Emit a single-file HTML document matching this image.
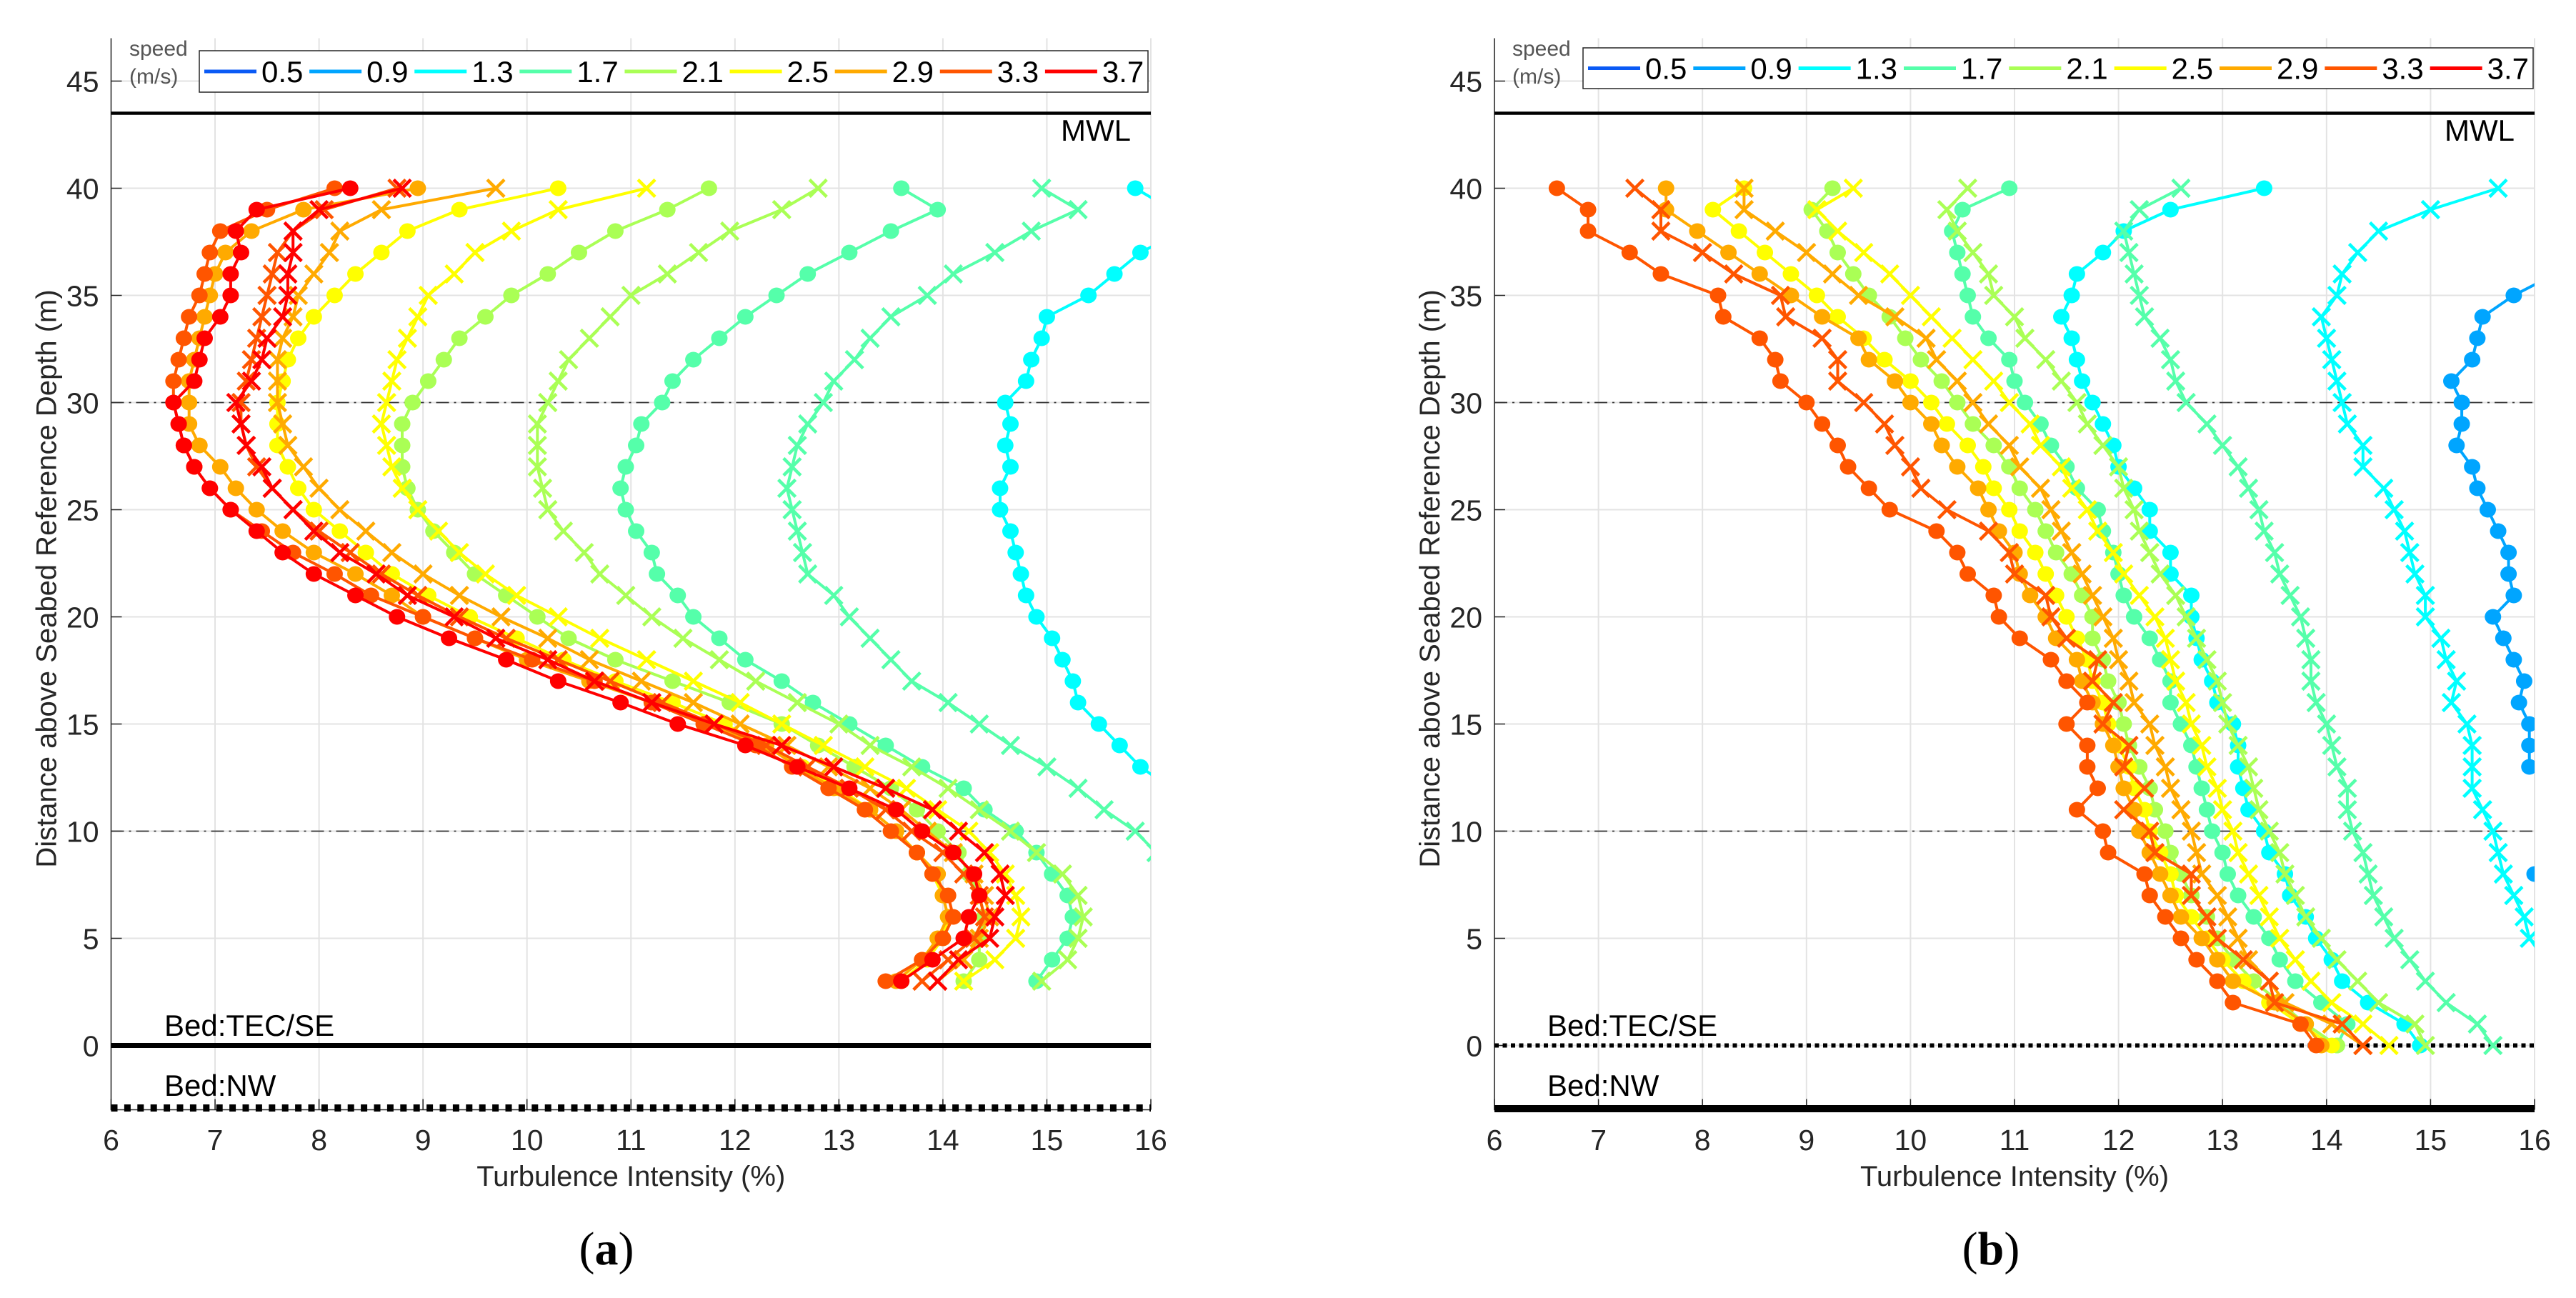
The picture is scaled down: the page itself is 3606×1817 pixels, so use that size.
<!DOCTYPE html>
<html><head><meta charset="utf-8"><style>
html,body{margin:0;padding:0;background:#fff;}
svg{display:block;font-family:"Liberation Sans",sans-serif;}
</style></head><body>
<svg id="chart" width="3606" height="1817" viewBox="0 0 3606 1817" xmlns="http://www.w3.org/2000/svg"></svg>
<script>
const speeds=["0.5","0.9","1.3","1.7","2.1","2.5","2.9","3.3","3.7"];
const colors=["#0a5af5","#00a5ff","#00ffff","#55ffaa","#aaff55","#ffff00","#ffaa00","#ff5500","#ff0000"];
const xTicks=[6,7,8,9,10,11,12,13,14,15,16];
const yTicks=[0,5,10,15,20,25,30,35,40,45];
const depthsA=[40,39,38,37,36,35,34,33,32,31,30,29,28,27,26,25,24,23,22,21,20,19,18,17,16,15,14,13,12,11,10,9,8,7,6,5,4,3];
const depthsB=[40,39,38,37,36,35,34,33,32,31,30,29,28,27,26,25,24,23,22,21,20,19,18,17,16,15,14,13,12,11,10,9,8,7,6,5,4,3,2,1,0];
// panel (a)
const a13d=[15.85,16.2,16.3,15.9,15.65,15.4,15.0,14.95,14.85,14.8,14.6,14.65,14.6,14.65,14.55,14.55,14.65,14.7,14.75,14.8,14.9,15.05,15.15,15.25,15.3,15.5,15.7,15.9,16.2,16.5,16.8,17,17.2,17.3,17.3,17.2,17,16.8];
const a17x=[14.95,15.3,14.85,14.5,14.1,13.85,13.5,13.3,13.15,12.95,12.85,12.7,12.6,12.55,12.5,12.55,12.6,12.65,12.7,12.95,13.1,13.3,13.5,13.7,14.05,14.35,14.65,15.0,15.3,15.55,15.85,16.05,16.3,16.5,16.6,16.5,16.3,16.1];
const a17d=[13.6,13.95,13.5,13.1,12.7,12.4,12.1,11.85,11.6,11.4,11.3,11.1,11.05,10.95,10.9,10.95,11.05,11.2,11.25,11.45,11.6,11.85,12.1,12.45,12.75,13.1,13.45,13.8,14.2,14.4,14.7,14.9,15.05,15.2,15.25,15.2,15.05,14.9];
const a21x=[12.8,12.45,11.95,11.65,11.35,11.0,10.8,10.6,10.4,10.3,10.2,10.1,10.1,10.1,10.15,10.2,10.35,10.55,10.7,10.95,11.2,11.5,11.85,12.2,12.6,13.0,13.3,13.7,14.05,14.35,14.65,14.9,15.15,15.3,15.35,15.3,15.2,14.95];
const a21d=[11.75,11.35,10.85,10.5,10.2,9.85,9.6,9.35,9.2,9.05,8.9,8.8,8.8,8.8,8.85,8.95,9.1,9.3,9.5,9.8,10.1,10.4,10.85,11.4,11.95,12.45,12.8,13.15,13.5,13.75,13.95,14.15,14.25,14.35,14.4,14.35,14.35,14.2];
const a25x=[11.15,10.3,9.85,9.5,9.3,9.05,8.95,8.85,8.75,8.7,8.65,8.6,8.65,8.7,8.8,8.95,9.15,9.35,9.6,9.9,10.3,10.7,11.15,11.6,12.05,12.45,12.85,13.25,13.65,13.95,14.25,14.45,14.6,14.7,14.75,14.7,14.5,14.2];
const a25d=[10.3,9.35,8.85,8.6,8.35,8.15,7.95,7.8,7.7,7.65,7.6,7.6,7.6,7.7,7.8,7.95,8.2,8.45,8.7,9.05,9.45,9.9,10.35,10.85,11.4,11.9,12.3,12.65,13.0,13.3,13.55,13.75,13.9,14.0,14.05,14.0,13.85,13.6];
const a29x=[9.7,8.6,8.2,8.1,7.95,7.8,7.75,7.65,7.6,7.6,7.6,7.65,7.7,7.85,8.0,8.2,8.45,8.7,9.0,9.35,9.75,10.2,10.6,11.1,11.6,12.05,12.5,12.9,13.3,13.6,13.85,14.1,14.3,14.4,14.45,14.35,14.2,13.95];
const a29d=[8.95,7.85,7.35,7.1,7.0,6.95,6.9,6.85,6.8,6.75,6.75,6.75,6.85,7.05,7.2,7.4,7.65,7.95,8.35,8.7,9.0,9.5,10.0,10.6,11.2,11.7,12.3,12.6,12.95,13.3,13.55,13.75,13.95,14.0,14.05,13.95,13.8,13.55];
const a33x=[8.75,8.05,7.75,7.6,7.55,7.5,7.45,7.4,7.35,7.3,7.25,7.25,7.3,7.4,7.55,7.75,8.0,8.3,8.6,8.95,9.35,9.8,10.3,10.8,11.3,11.8,12.3,12.7,13.1,13.45,13.7,14.0,14.2,14.35,14.4,14.3,14.05,13.8];
const a33d=[8.15,7.5,7.05,6.95,6.9,6.85,6.75,6.7,6.65,6.6,6.6,6.65,6.7,6.8,6.95,7.15,7.45,7.75,8.15,8.5,9.0,9.5,10.05,10.65,11.2,11.7,12.2,12.55,12.9,13.25,13.5,13.75,13.9,14.05,14.1,14.0,13.8,13.45];
const a37d=[8.3,7.4,7.2,7.25,7.15,7.15,7.05,6.9,6.85,6.8,6.6,6.65,6.7,6.8,6.95,7.15,7.4,7.65,7.95,8.35,8.75,9.25,9.8,10.3,10.9,11.45,12.1,12.6,13.1,13.55,13.8,14.1,14.3,14.35,14.25,14.2,13.9,13.6];
const a37x=[8.8,8.0,7.75,7.75,7.7,7.7,7.65,7.5,7.45,7.35,7.2,7.25,7.3,7.45,7.55,7.75,7.95,8.2,8.55,8.85,9.3,9.7,10.2,10.65,11.2,11.8,12.45,12.95,13.45,13.9,14.15,14.4,14.55,14.6,14.5,14.45,14.15,13.95];
// panel (b)
const b09d=[17,16.9,16.6,16.4,16.2,15.8,15.5,15.45,15.4,15.2,15.3,15.3,15.25,15.4,15.45,15.55,15.65,15.75,15.75,15.8,15.6,15.7,15.8,15.9,15.85,15.95,15.95,15.95,16.2,16.3,16.3,16.2,16.0,16.2,16.4,16.5,16.6,16.8,17,17.2,17.4];
const b13x=[15.65,15.0,14.5,14.3,14.15,14.1,13.95,14.0,14.05,14.1,14.15,14.2,14.35,14.35,14.55,14.65,14.75,14.8,14.85,14.95,14.95,15.1,15.15,15.25,15.2,15.35,15.4,15.4,15.4,15.5,15.6,15.65,15.7,15.8,15.9,15.95,16.1,16.3,16.5,16.7,16.9];
const b13d=[13.4,12.5,12.05,11.85,11.6,11.55,11.45,11.55,11.6,11.65,11.75,11.85,11.95,12.0,12.15,12.3,12.3,12.5,12.5,12.7,12.7,12.75,12.8,12.9,12.95,13.1,13.15,13.15,13.2,13.25,13.4,13.45,13.6,13.65,13.8,13.9,14.05,14.15,14.4,14.75,14.9];
const b17x=[12.6,12.2,12.05,12.1,12.15,12.2,12.25,12.4,12.5,12.55,12.65,12.85,13.0,13.15,13.25,13.35,13.4,13.5,13.55,13.65,13.75,13.8,13.85,13.85,13.9,14.0,14.05,14.1,14.2,14.2,14.25,14.35,14.4,14.45,14.55,14.65,14.8,14.95,15.15,15.45,15.6];
const b17d=[10.95,10.5,10.4,10.45,10.5,10.55,10.6,10.75,10.95,11.0,11.1,11.25,11.35,11.5,11.6,11.8,11.85,11.95,12.0,12.05,12.15,12.3,12.4,12.5,12.5,12.6,12.7,12.75,12.8,12.85,12.9,13.0,13.05,13.15,13.3,13.45,13.55,13.7,13.95,14.2,14.1];
const b21x=[10.55,10.35,10.45,10.6,10.75,10.8,11.0,11.1,11.3,11.45,11.6,11.7,11.85,12.0,12.05,12.15,12.2,12.3,12.4,12.55,12.65,12.75,12.85,12.95,13.0,13.05,13.15,13.25,13.3,13.35,13.45,13.55,13.6,13.7,13.8,13.95,14.1,14.3,14.5,14.85,14.95];
const b21d=[9.25,9.05,9.2,9.3,9.45,9.6,9.8,9.95,10.1,10.3,10.45,10.6,10.8,10.95,11.05,11.2,11.3,11.4,11.55,11.65,11.75,11.75,11.85,11.9,12.0,12.05,12.1,12.2,12.3,12.35,12.45,12.5,12.6,12.7,12.85,12.95,13.1,13.3,13.55,13.8,14.1];
const b25x=[9.45,9.1,9.3,9.55,9.8,10.0,10.2,10.4,10.6,10.8,10.95,11.15,11.25,11.45,11.55,11.7,11.8,11.95,12.05,12.2,12.35,12.45,12.5,12.55,12.65,12.7,12.8,12.85,12.95,13.0,13.1,13.15,13.25,13.35,13.45,13.55,13.7,13.85,14.05,14.35,14.6];
const b25d=[8.4,8.1,8.35,8.6,8.85,9.1,9.3,9.55,9.75,10.0,10.2,10.35,10.55,10.7,10.8,10.95,11.05,11.2,11.3,11.4,11.5,11.6,11.7,11.75,11.85,11.9,12.0,12.1,12.15,12.25,12.3,12.4,12.5,12.55,12.7,12.85,13.0,13.2,13.45,13.75,14.05];
const b29x=[8.4,8.4,8.7,9.0,9.25,9.5,9.85,10.15,10.25,10.45,10.6,10.75,10.95,11.05,11.25,11.35,11.45,11.55,11.65,11.75,11.85,11.95,12.0,12.1,12.15,12.3,12.35,12.45,12.5,12.6,12.7,12.75,12.8,12.95,13.05,13.15,13.25,13.45,13.6,14.05,14.35];
const b29d=[7.65,7.65,7.95,8.25,8.55,8.85,9.15,9.5,9.6,9.85,10.0,10.2,10.3,10.45,10.65,10.75,10.85,11.0,11.05,11.15,11.3,11.4,11.6,11.65,11.75,11.85,11.95,12.0,12.05,12.15,12.2,12.3,12.4,12.5,12.6,12.8,12.95,13.1,13.5,13.8,13.95];
const b33x=[7.35,7.6,7.6,8.0,8.3,8.75,8.8,9.15,9.3,9.3,9.55,9.75,9.85,10.0,10.1,10.35,10.75,10.95,11.0,11.3,11.35,11.5,11.8,11.75,11.95,11.85,12.1,12.05,12.25,12.05,12.3,12.35,12.7,12.7,12.85,12.95,13.2,13.45,13.5,14.15,14.35];
const b33d=[6.6,6.9,6.9,7.3,7.6,8.15,8.2,8.55,8.7,8.75,9.0,9.15,9.3,9.4,9.6,9.8,10.25,10.45,10.55,10.8,10.85,11.05,11.35,11.5,11.7,11.5,11.7,11.7,11.8,11.6,11.85,11.9,12.25,12.3,12.45,12.6,12.75,12.95,13.1,13.75,13.9];

const NS="http://www.w3.org/2000/svg";
const svg=document.getElementById('chart');
function mk(tag,attrs,parent){const e=document.createElementNS(NS,tag);for(const k in attrs)e.setAttribute(k,attrs[k]);(parent||svg).appendChild(e);return e;}

const panels=[
 {id:'a',x0:155.5,x1:1611,label:'(a)',lx:849,speedX:181,legL:279,legR:1607,legT:71,legB:129,
  bedTopStyle:'solid',bedNWStyle:'dotted',bedTextX:230,
  series:[[2,'d',a13d],[3,'x',a17x],[3,'d',a17d],[4,'x',a21x],[4,'d',a21d],[5,'x',a25x],[5,'d',a25d],[6,'x',a29x],[6,'d',a29d],[7,'x',a33x],[7,'d',a33d],[8,'d',a37d],[8,'x',a37x]],depths:depthsA},
 {id:'b',x0:2092,x1:3548,label:'(b)',lx:2787,speedX:2117,legL:2216,legR:3546,legT:67,legB:124,
  bedTopStyle:'dotted',bedNWStyle:'solid',bedTextX:2166,
  series:[[1,'d',b09d],[2,'x',b13x],[2,'d',b13d],[3,'x',b17x],[3,'d',b17d],[4,'x',b21x],[4,'d',b21d],[5,'x',b25x],[5,'d',b25d],[6,'x',b29x],[6,'d',b29d],[7,'x',b33x],[7,'d',b33d]],depths:depthsB}
];
const Y0=1463.5, YS=30, YMIN=-3, YMAX=47;
function yPos(v){return Y0-v*YS;}

panels.forEach(p=>{
 const xPos=v=>p.x0+(v-6)*(p.x1-p.x0)/10;
 const g=mk('g',{});
 
 
 const top=yPos(YMAX), bot=yPos(YMIN);
 xTicks.forEach(t=>{const l=mk('line',{x1:xPos(t),x2:xPos(t),y1:top,y2:bot,stroke:'#e3e3e3','stroke-width':2},g);
  });
 yTicks.forEach(t=>{const l=mk('line',{x1:p.x0,x2:p.x1,y1:yPos(t),y2:yPos(t),stroke:'#e3e3e3','stroke-width':2},g);
  });
 const sp=mk('path',{d:`M${p.x0},${top}V${bot}H${p.x1}`,fill:'none',stroke:'#262626','stroke-width':1.5},g);
 
 xTicks.forEach(t=>{mk('line',{x1:xPos(t),x2:xPos(t),y1:bot,y2:bot-15,stroke:'#262626','stroke-width':1.5},g);
  const tx=mk('text',{x:xPos(t),y:1610,'font-size':41,'text-anchor':'middle',fill:'#262626'},g);tx.textContent=t;
  });
 yTicks.forEach(t=>{mk('line',{x1:p.x0,x2:p.x0+15,y1:yPos(t),y2:yPos(t),stroke:'#262626','stroke-width':1.5},g);
  const tx=mk('text',{x:p.x0-17,y:yPos(t)+15,'font-size':41,'text-anchor':'end',fill:'#262626'},g);tx.textContent=t;
  });
 [10,30].forEach(v=>{const l=mk('line',{x1:p.x0,x2:p.x1,y1:yPos(v),y2:yPos(v),stroke:'#333','stroke-width':1.8,'stroke-dasharray':'18,7,3,7'},g);
  });
 const mwl=mk('line',{x1:p.x0,x2:p.x1,y1:yPos(43.5),y2:yPos(43.5),stroke:'#000','stroke-width':4.5},g);
 
 const mt=mk('text',{x:p.x1-28,y:197,'font-size':42,'text-anchor':'end',fill:'#000'},g);mt.textContent='MWL';
 
 function bedLine(v,style,name){
  let a;
  if(style==='solid'){a={x1:p.x0,x2:p.x1,y1:yPos(v),y2:yPos(v),stroke:'#000','stroke-width':v<0?10:7};}
  else if(v<0){a={x1:p.x0,x2:p.x1,y1:yPos(v)-1,y2:yPos(v)-1,stroke:'#000','stroke-width':10,'stroke-dasharray':'9,9.4'};}
  else {a={x1:p.x0,x2:p.x1,y1:yPos(v),y2:yPos(v),stroke:'#000','stroke-width':6,'stroke-dasharray':'6,5.5'};}
  const l=mk('line',a,g);
 }
 bedLine(0,p.bedTopStyle,'bed-tec-se-line');
 bedLine(-2.95,p.bedNWStyle,'bed-nw-line');
 const b1=mk('text',{x:p.bedTextX,y:1450,'font-size':42,fill:'#000'},g);b1.textContent='Bed:TEC/SE';
 
 const b2=mk('text',{x:p.bedTextX,y:1534,'font-size':42,fill:'#000'},g);b2.textContent='Bed:NW';
 
 const cp=mk('clipPath',{id:'clip'+p.id},g);mk('rect',{x:p.x0,y:top,width:p.x1-p.x0,height:bot-top},cp);
 const sg=mk('g',{'clip-path':`url(#clip${p.id})`},g);
 
 p.series.forEach(([si,m,vals])=>{
  const col=colors[si];
  const s=mk('g',{},sg);
  
  
  const pts=vals.map((v,i)=>xPos(v).toFixed(1)+','+yPos(p.depths[i]).toFixed(1)).join(' ');
  mk('polyline',{points:pts,fill:'none',stroke:col,'stroke-width':4,'stroke-linejoin':'round'},s);
  vals.forEach((v,i)=>{
   const cx=xPos(v),cy=yPos(p.depths[i]);
   let mkEl;
   if(m==='d'){mkEl=mk('ellipse',{cx:cx,cy:cy,rx:11.5,ry:11,fill:col},s);}
   else{mkEl=mk('path',{d:`M${cx-12},${cy-12}L${cx+12},${cy+12}M${cx-12},${cy+12}L${cx+12},${cy-12}`,stroke:col,'stroke-width':4.5,fill:'none'},s);}
   
   
  });
 });
 const lg=mk('g',{},g);
 
 const s1=mk('text',{x:p.speedX,y:78,'font-size':30,fill:'#555'},lg);s1.textContent='speed';
 
 const s2=mk('text',{x:p.speedX,y:117,'font-size':30,fill:'#555'},lg);s2.textContent='(m/s)';
 
 mk('rect',{x:p.legL,y:p.legT,width:p.legR-p.legL,height:p.legB-p.legT,fill:'#fff',stroke:'#262626','stroke-width':1.5},lg);
 const pitch=(p.legR-p.legL-4)/9;
 const cy=(p.legT+p.legB)/2;
 speeds.forEach((sp,i)=>{
  const e=mk('g',{},lg);
  
  
  const lx=p.legL+7+i*pitch;
  mk('line',{x1:lx,x2:lx+73,y1:cy,y2:cy,stroke:colors[i],'stroke-width':5},e);
  const t=mk('text',{x:lx+80,y:cy+15,'font-size':42,fill:'#000'},e);t.textContent=sp;
 });
 const xl=mk('text',{x:(p.x0+p.x1)/2,y:1660,'font-size':40,'text-anchor':'middle',fill:'#262626'},g);
 xl.textContent='Turbulence Intensity (%)';
 
 const yx=p.x0-77;
 const yl=mk('text',{x:yx,y:810,'font-size':40,'text-anchor':'middle',fill:'#262626',transform:`rotate(-90 ${yx} 810)`},g);
 yl.textContent='Distance above Seabed Reference Depth (m)';
 
 const pl=mk('text',{x:p.lx,y:1770,'font-size':66,'text-anchor':'middle','font-family':'"Liberation Serif",serif',fill:'#000'},g);
 pl.innerHTML='(<tspan font-weight="bold">'+p.id+'</tspan>)';
 
});
</script>
</body></html>
